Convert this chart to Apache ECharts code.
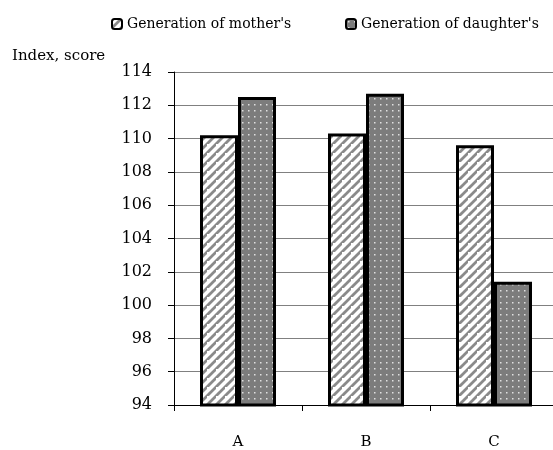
<!DOCTYPE html>
<html><head><meta charset="utf-8">
<script src="https://cdn.jsdelivr.net/npm/echarts@6/dist/echarts.min.js"></script>
<style>html,body{margin:0;padding:0;background:#fff;overflow:hidden}#c{width:558px;height:450px}</style>
</head><body><div id="c"></div>
<script>
var categories = ['A', 'B', 'C'];
var motherValues = [110.2, 110.3, 109.6];
var daughterValues = [112.5, 112.7, 101.4];
var seriesNames = ["Generation of mother's", "Generation of daughter's"];
var yTicks = [94, 96, 98, 100, 102, 104, 106, 108, 110, 112, 114];

function stripePattern() {
  var s = 9;
  var c = document.createElement('canvas');
  c.width = s; c.height = s;
  var g = c.getContext('2d');
  g.fillStyle = '#fff'; g.fillRect(0, 0, s, s);
  g.strokeStyle = '#8a8a8a'; g.lineWidth = 2.8;
  g.beginPath();
  g.moveTo(-2, s + 2); g.lineTo(s + 2, -2);
  g.moveTo(-s - 2, 2 ); g.lineTo(2, -s - 2);
  g.moveTo(-2 + 0, 2 * s + 2); g.lineTo(2 * s + 2, -2 + 0);
  g.stroke();
  return c;
}
function dotPattern() {
  var c = document.createElement('canvas');
  c.width = 6; c.height = 6;
  var g = c.getContext('2d');
  g.fillStyle = '#7c7c7c'; g.fillRect(0, 0, 6, 6);
  g.fillStyle = '#e0e0e0'; g.fillRect(2, 2, 1.5, 1.5);
  return c;
}
var font = 'DejaVu Serif';
var chart = echarts.init(document.getElementById('c'));
chart.setOption({
  animation: false,
  textStyle: { fontFamily: font },
  legend: [{
    data: [seriesNames[0]], left: 106, top: 12, itemWidth: 10, itemHeight: 10, itemGap: 3,
    textStyle: { fontFamily: font, fontSize: 14, color: '#000' }
  }, {
    data: [seriesNames[1]], left: 340, top: 12, itemWidth: 10, itemHeight: 10,
    textStyle: { fontFamily: font, fontSize: 14, color: '#000' }
  }],
  grid: { left: 174, top: 72, bottom: 43, right: 0 },
  xAxis: {
    type: 'category', data: categories,
    axisLine: { lineStyle: { color: '#000', width: 1 } },
    axisTick: { show: true, length: 6, lineStyle: { color: '#000' } },
    axisLabel: { fontFamily: font, fontSize: 15, color: '#000', margin: 30 }
  },
  yAxis: {
    type: 'value', min: 94, max: 114, interval: 2,
    name: 'Index, score', nameLocation: 'end', nameGap: 8,
    nameTextStyle: { fontFamily: font, fontSize: 15, color: '#000', align: 'left', padding: [0, 0, 0, -162] },
    axisLine: { show: true, lineStyle: { color: '#000' } },
    axisTick: { show: true, length: 6, lineStyle: { color: '#000' } },
    axisLabel: { fontFamily: font, fontSize: 16, color: '#000', margin: 22,
      formatter: function (v) { return yTicks.indexOf(v) >= 0 ? String(v) : ''; } },
    splitLine: { show: true, lineStyle: { color: '#808080', width: 1 } }
  },
  series: [{
    name: seriesNames[0], type: 'bar', data: motherValues, barWidth: 38, barGap: '0%',
    itemStyle: { color: { image: stripePattern(), repeat: 'repeat' }, borderColor: '#000', borderWidth: 3 }
  }, {
    name: seriesNames[1], type: 'bar', data: daughterValues, barWidth: 38,
    itemStyle: { color: { image: dotPattern(), repeat: 'repeat' }, borderColor: '#000', borderWidth: 3 }
  }]
});
</script></body></html>
